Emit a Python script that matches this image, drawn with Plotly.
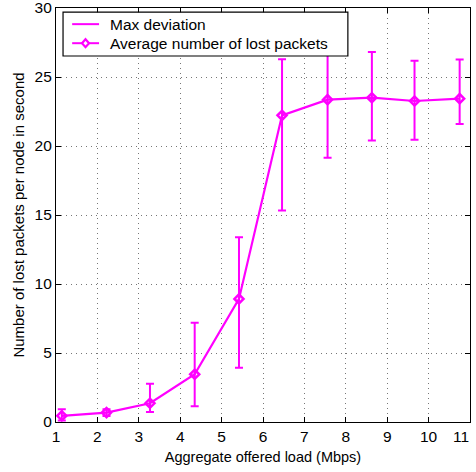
import plotly.graph_objects as go

load_mbps = [1.14, 2.22, 3.27, 4.35, 5.42, 6.46, 7.56, 8.63, 9.66, 10.75]
avg_lost = [0.45, 0.68, 1.36, 3.46, 8.92, 22.22, 23.36, 23.50, 23.26, 23.43]
err_plus = [0.47, 0.25, 1.42, 3.73, 4.46, 4.07, 4.21, 3.32, 2.91, 2.84]
err_minus = [0.35, 0.25, 0.63, 2.32, 4.98, 6.90, 4.21, 3.10, 2.80, 1.83]
x_ticks = [1, 2, 3, 4, 5, 6, 7, 8, 9, 10, 11]
y_ticks = [0, 5, 10, 15, 20, 25, 30]
legend_labels = ["Max deviation", "Average number of lost packets"]

magenta = "#ff00ff"
fig = go.Figure()
fig.add_trace(go.Scatter(
    x=load_mbps, y=avg_lost, mode="lines+markers",
    name=legend_labels[1], showlegend=False,
    line=dict(color=magenta, width=2.2),
    marker=dict(symbol="diamond-open", size=7, color=magenta, line=dict(width=2.5, color=magenta)),
    error_y=dict(type="data", symmetric=False, array=err_plus, arrayminus=err_minus,
                 color=magenta, thickness=2, width=4)))

axis_common = dict(showline=True, linecolor="black", linewidth=1.2, mirror="ticks",
                   ticks="inside", ticklen=5, tickcolor="black",
                   showgrid=True, gridcolor="#777777", griddash="1px,4px", gridwidth=1,
                   zeroline=False, tickfont=dict(size=15.5, color="black"),
                   ticklabeloverflow="allow", tickmode="array", automargin=False)

# legend box (drawn manually in plot-domain coordinates)
dref = dict(xref="x domain", yref="y domain")
fig.add_shape(type="rect", x0=0.017, x1=0.705, y0=0.884, y1=0.990,
              line=dict(color="black", width=1.2), fillcolor="white", layer="above", **dref)
row_y = [0.961, 0.915]
for yy in row_y:
    fig.add_shape(type="line", x0=0.039, x1=0.104, y0=yy, y1=yy,
                  line=dict(color=magenta, width=2), layer="above", **dref)
mx, my, hw, hh = 0.0713, row_y[1], 0.0085, 0.0097
fig.add_shape(type="path",
              path=f"M {mx-hw},{my} L {mx},{my+hh} L {mx+hw},{my} L {mx},{my-hh} Z",
              line=dict(color=magenta, width=2.2), fillcolor="white", layer="above", **dref)
for yy, lab in zip(row_y, legend_labels):
    fig.add_annotation(x=0.128, y=yy, text=lab, showarrow=False, xanchor="left", yanchor="middle",
                       borderpad=0, font=dict(size=15.5, color="black"), **dref)

# last x tick label moved slightly left so it stays inside the page
x_text = [str(v) for v in x_ticks]
last_label = x_text[-1]
x_text[-1] = ""
fig.add_annotation(x=1, xref="paper", y=0, yref="y domain", text=last_label, showarrow=False,
                   xanchor="right", yanchor="middle", yshift=-14, borderpad=0,
                   font=dict(size=15.5, color="black"))

fig.update_layout(
    width=476, height=472,
    margin=dict(l=56, r=6, t=8, b=50),
    paper_bgcolor="white", plot_bgcolor="white",
    font=dict(family="Liberation Sans, Arial, sans-serif", color="black"),
    xaxis=dict(range=[1, 11], tickvals=x_ticks, ticktext=x_text,
               title=dict(text="Aggregate offered load (Mbps)", font=dict(size=14.5), standoff=8), **axis_common),
    yaxis=dict(range=[0, 30], tickvals=y_ticks, ticktext=[str(v) for v in y_ticks],
               title=dict(text="Number of lost packets per node in second", font=dict(size=15), standoff=6), **axis_common),
    showlegend=False,
)
fig.write_html("out.html")
